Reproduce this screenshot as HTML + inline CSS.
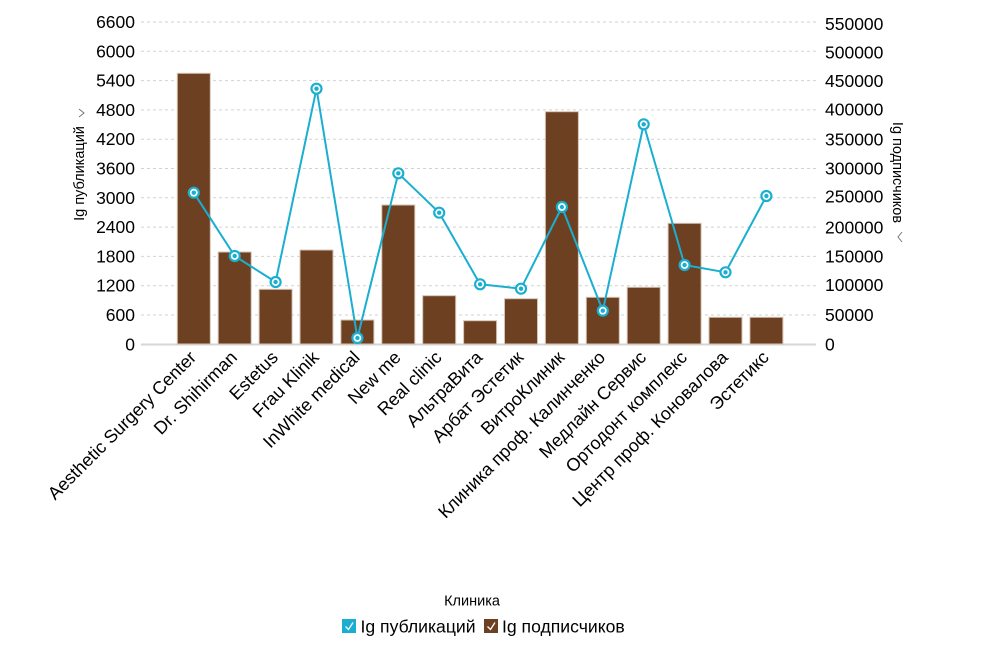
<!DOCTYPE html>
<html>
<head>
<meta charset="utf-8">
<style>
html,body{margin:0;padding:0;background:#fff;}
svg{display:block;}
text{font-family:"Liberation Sans","DejaVu Sans",sans-serif;fill:#000;}
</style>
</head>
<body>
<svg width="990" height="660" viewBox="0 0 990 660" xmlns="http://www.w3.org/2000/svg">
<!-- gridlines -->
<g stroke="#d2d2d2" stroke-width="1" stroke-dasharray="3,3">
<line x1="141" y1="22" x2="816" y2="22"/>
<line x1="141" y1="51.3" x2="816" y2="51.3"/>
<line x1="141" y1="80.6" x2="816" y2="80.6"/>
<line x1="141" y1="109.9" x2="816" y2="109.9"/>
<line x1="141" y1="139.2" x2="816" y2="139.2"/>
<line x1="141" y1="168.5" x2="816" y2="168.5"/>
<line x1="141" y1="197.8" x2="816" y2="197.8"/>
<line x1="141" y1="227.1" x2="816" y2="227.1"/>
<line x1="141" y1="256.4" x2="816" y2="256.4"/>
<line x1="141" y1="285.7" x2="816" y2="285.7"/>
<line x1="141" y1="315" x2="816" y2="315"/>
</g>
<line x1="141" y1="344.5" x2="816" y2="344.5" stroke="#d6d6d6" stroke-width="2"/>

<!-- left axis labels -->
<g font-size="17.5" text-anchor="end">
<text x="135" y="28">6600</text>
<text x="135" y="57.3">6000</text>
<text x="135" y="86.6">5400</text>
<text x="135" y="115.9">4800</text>
<text x="135" y="145.2">4200</text>
<text x="135" y="174.5">3600</text>
<text x="135" y="203.8">3000</text>
<text x="135" y="233.1">2400</text>
<text x="135" y="262.4">1800</text>
<text x="135" y="291.7">1200</text>
<text x="135" y="321">600</text>
<text x="135" y="350.3">0</text>
</g>
<!-- right axis labels -->
<g font-size="17.5" text-anchor="start">
<text x="825" y="30">550000</text>
<text x="825" y="58.7">500000</text>
<text x="825" y="87">450000</text>
<text x="825" y="115.5">400000</text>
<text x="825" y="145.3">350000</text>
<text x="825" y="174.3">300000</text>
<text x="825" y="202.7">250000</text>
<text x="825" y="233.5">200000</text>
<text x="825" y="262.7">150000</text>
<text x="825" y="291">100000</text>
<text x="825" y="321">50000</text>
<text x="825" y="350.3">0</text>
</g>

<!-- axis titles -->
<text font-size="14.5" text-anchor="middle" transform="translate(84,173.5) rotate(-90)">Ig публикаций</text>
<polyline points="79,109 84,113 79,117" fill="none" stroke="#777" stroke-width="1"/>
<text font-size="14.5" text-anchor="middle" transform="translate(893,172.5) rotate(90)">Ig подписчиков</text>
<polyline points="902,232 898,237 902,242" fill="none" stroke="#777" stroke-width="1"/>

<!-- bars -->
<g fill="#6d4022" stroke="#d5c4b4" stroke-width="1">
<rect x="177.3" y="73.3" width="33" height="270.7"/>
<rect x="218.2" y="252" width="33" height="92"/>
<rect x="259.1" y="289.3" width="33" height="54.7"/>
<rect x="300" y="250" width="33" height="94"/>
<rect x="340.9" y="320" width="33" height="24"/>
<rect x="381.8" y="205" width="33" height="139"/>
<rect x="422.7" y="295.7" width="33" height="48.3"/>
<rect x="463.6" y="320.7" width="33" height="23.3"/>
<rect x="504.5" y="298.7" width="33" height="45.3"/>
<rect x="545.4" y="111.7" width="33" height="232.3"/>
<rect x="586.3" y="297.3" width="33" height="46.7"/>
<rect x="627.2" y="287.3" width="33" height="56.7"/>
<rect x="668.1" y="223.3" width="33" height="120.7"/>
<rect x="709" y="317.3" width="33" height="26.7"/>
<rect x="749.9" y="317.3" width="33" height="26.7"/>
</g>

<!-- line -->
<polyline fill="none" stroke="#1aafd0" stroke-width="2" stroke-linejoin="round"
points="193.8,192.7 234.7,256 275.6,282 316.5,88.7 357.4,338 398.3,173.3 439.2,212.7 480.1,284.3 521,288.7 561.9,207 602.8,310.7 643.7,124.3 684.6,265 725.5,272.3 766.4,196"/>
<g fill="#fff" stroke="#1aafd0" stroke-width="2.2">
<circle cx="193.8" cy="192.7" r="5"/>
<circle cx="234.7" cy="256" r="5"/>
<circle cx="275.6" cy="282" r="5"/>
<circle cx="316.5" cy="88.7" r="5"/>
<circle cx="357.4" cy="338" r="5"/>
<circle cx="398.3" cy="173.3" r="5"/>
<circle cx="439.2" cy="212.7" r="5"/>
<circle cx="480.1" cy="284.3" r="5"/>
<circle cx="521" cy="288.7" r="5"/>
<circle cx="561.9" cy="207" r="5"/>
<circle cx="602.8" cy="310.7" r="5"/>
<circle cx="643.7" cy="124.3" r="5"/>
<circle cx="684.6" cy="265" r="5"/>
<circle cx="725.5" cy="272.3" r="5"/>
<circle cx="766.4" cy="196" r="5"/>
</g>
<g fill="#1aafd0">
<circle cx="193.8" cy="192.7" r="2.2"/>
<circle cx="234.7" cy="256" r="2.2"/>
<circle cx="275.6" cy="282" r="2.2"/>
<circle cx="316.5" cy="88.7" r="2.2"/>
<circle cx="357.4" cy="338" r="2.2"/>
<circle cx="398.3" cy="173.3" r="2.2"/>
<circle cx="439.2" cy="212.7" r="2.2"/>
<circle cx="480.1" cy="284.3" r="2.2"/>
<circle cx="521" cy="288.7" r="2.2"/>
<circle cx="561.9" cy="207" r="2.2"/>
<circle cx="602.8" cy="310.7" r="2.2"/>
<circle cx="643.7" cy="124.3" r="2.2"/>
<circle cx="684.6" cy="265" r="2.2"/>
<circle cx="725.5" cy="272.3" r="2.2"/>
<circle cx="766.4" cy="196" r="2.2"/>
</g>

<!-- x labels -->
<g font-size="18" text-anchor="end">
<text transform="translate(197.3,358.5) rotate(-45)">Aesthetic Surgery Center</text>
<text transform="translate(238.2,358.5) rotate(-45)">Dr. Shihirman</text>
<text transform="translate(279.1,358.5) rotate(-45)">Estetus</text>
<text transform="translate(320,358.5) rotate(-45)">Frau Klinik</text>
<text transform="translate(360.9,358.5) rotate(-45)">InWhite medical</text>
<text transform="translate(401.8,358.5) rotate(-45)">New me</text>
<text transform="translate(442.7,358.5) rotate(-45)">Real clinic</text>
<text transform="translate(483.6,358.5) rotate(-45)">АльтраВита</text>
<text transform="translate(524.5,358.5) rotate(-45)">Арбат Эстетик</text>
<text transform="translate(565.4,358.5) rotate(-45)">ВитроКлиник</text>
<text transform="translate(606.3,358.5) rotate(-45)">Клиника проф. Калинченко</text>
<text transform="translate(647.2,358.5) rotate(-45)">Медлайн Сервис</text>
<text transform="translate(688.1,358.5) rotate(-45)">Ортодонт комплекс</text>
<text transform="translate(729,358.5) rotate(-45)">Центр проф. Коновалова</text>
<text transform="translate(769.9,358.5) rotate(-45)">Эстетикс</text>
</g>

<!-- x axis title -->
<text x="472" y="605.5" font-size="14.5" text-anchor="middle">Клиника</text>

<!-- legend -->
<rect x="342" y="619" width="14" height="14" fill="#1aafd0"/>
<polyline points="345.5,626.5 348.5,629.5 353,622.5" fill="none" stroke="#fff" stroke-width="1.3"/>
<text x="360.5" y="632.5" font-size="17.6">Ig публикаций</text>
<rect x="484" y="619" width="14" height="14" fill="#6d4022"/>
<polyline points="487.5,626.5 490.5,629.5 495,622.5" fill="none" stroke="#fff" stroke-width="1.3"/>
<text x="502" y="632.5" font-size="17.6">Ig подписчиков</text>
</svg>
</body>
</html>
